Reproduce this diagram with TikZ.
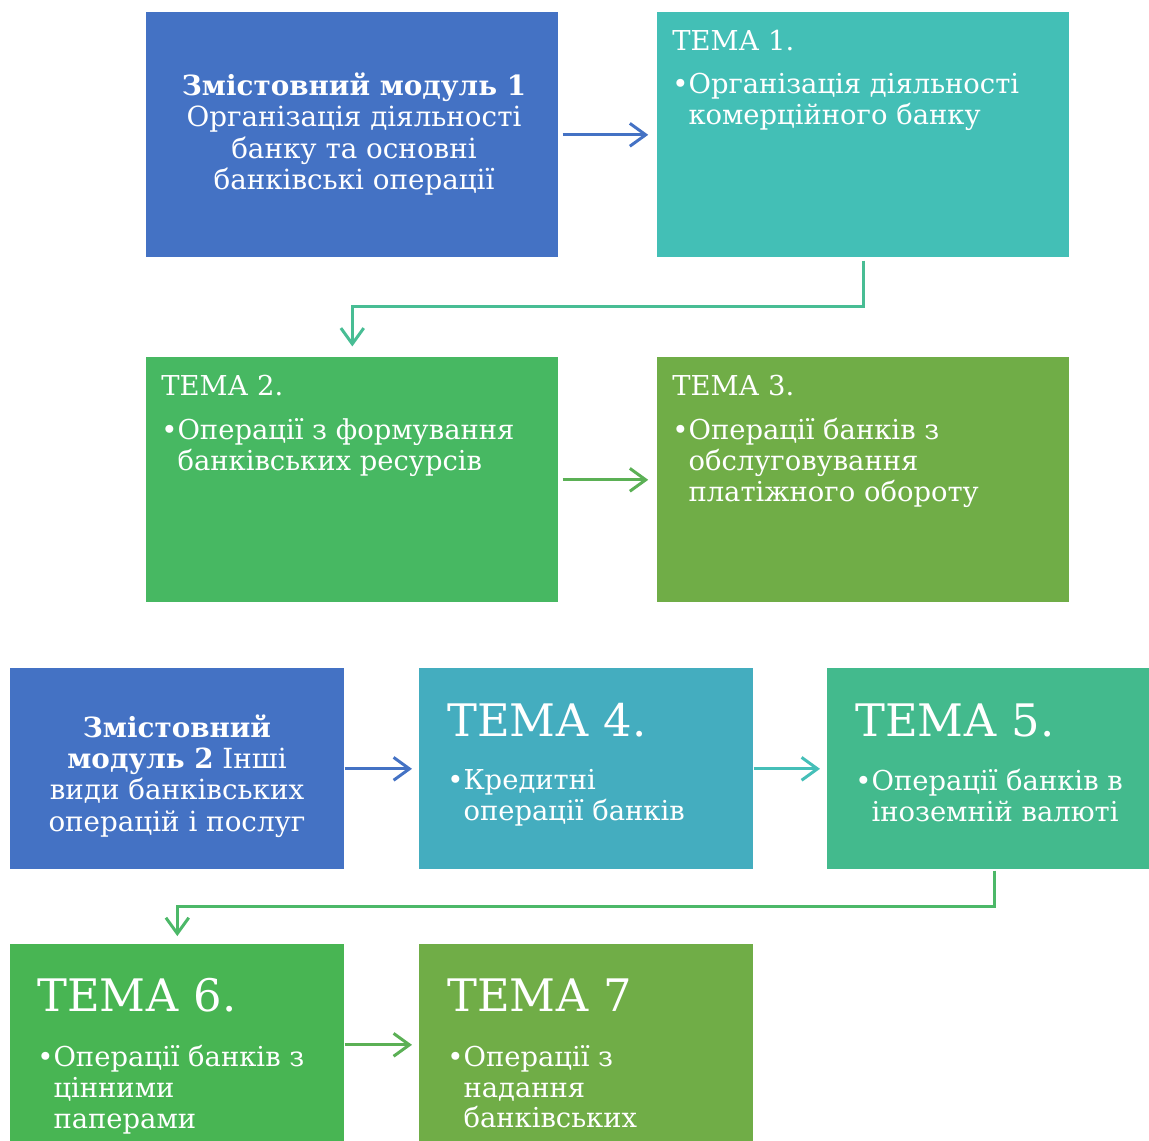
\documentclass[tikz,border=0pt]{standalone}
\usepackage{fontspec}
\setmainfont{DejaVu Serif}
\usetikzlibrary{arrows.meta}
\definecolor{modblue}{HTML}{4472C4}
\definecolor{tealone}{HTML}{43BFB6}
\definecolor{greentwo}{HTML}{47B862}
\definecolor{olive}{HTML}{70AD47}
\definecolor{tealfour}{HTML}{44ADBF}
\definecolor{greenfive}{HTML}{43BA8D}
\definecolor{greensix}{HTML}{48B553}
\definecolor{linkteal}{HTML}{48BD94}
\definecolor{linkgreen}{HTML}{5BB055}
\definecolor{linkcyan}{HTML}{45BFB8}
\definecolor{linkdown}{HTML}{4CB868}
\begin{document}
\begin{tikzpicture}[x=0.02cm, y=-0.02cm,
    every node/.style={inner sep=0pt, text=white},
    bigbox/.style={rectangle, anchor=north west, minimum width=8.24cm, minimum height=4.9cm},
    smallbox/.style={rectangle, anchor=north west, minimum width=6.68cm, minimum height=4.02cm},
    body/.style={anchor=north west, align=left, font=\fontsize{15.6}{17.5}\selectfont},
    modtext/.style={align=center, font=\fontsize{15.8}{17.8}\selectfont},
    bighead/.style={anchor=north west, font=\fontsize{25.5}{30}\selectfont},
    link/.style={line width=1.7pt, -{Straight Barb[length=9pt,width=13pt]}}]
  \useasboundingbox (0,0) rectangle (1149,1141);
  % first module
  \node[bigbox, fill=modblue] (m1) at (146,12) {};
  \node[bigbox, fill=tealone] (t1) at (657,12) {};
  \node[bigbox, fill=greentwo] (t2) at (146,357) {};
  \node[bigbox, fill=olive] (t3) at (657,357) {};
  \node[modtext] (m1text) at (354,134) {\textbf{Змістовний модуль 1}\\Організація діяльності\\банку та основні\\банківські операції};
  \node[body] (t1head) at (672,30) {ТЕМА 1.};
  \node[body] (t1text) at (672,73) {•Організація діяльності\\\phantom{•}комерційного банку};
  \node[body] (t2head) at (161,375) {ТЕМА 2.};
  \node[body] (t2text) at (161,418) {•Операції з формування\\\phantom{•}банківських ресурсів};
  \node[body] (t3head) at (672,375) {ТЕМА 3.};
  \node[body] (t3text) at (672,418) {•Операції банків з\\\phantom{•}обслуговування\\\phantom{•}платіжного обороту};
  \draw[link, modblue, shorten <=2.3pt, shorten >=5pt] (m1) -- (t1);
  \draw[link, linkteal, shorten <=1.7pt, shorten >=6pt] (t1.south) -- ++(0,49) -| (t2.north);
  \draw[link, linkgreen, shorten <=2.3pt, shorten >=5pt] (t2) -- (t3);
  % second module
  \node[smallbox, fill=modblue] (m2) at (10,668) {};
  \node[smallbox, fill=tealfour] (t4) at (419,668) {};
  \node[smallbox, fill=greenfive] (t5) at (827,668) {};
  \node[smallbox, fill=greensix] (t6) at (10,944) {};
  \node[smallbox, fill=olive] (t7) at (419,944) {};
  \node[modtext] (m2text) at (177,776) {\textbf{Змістовний}\\\textbf{модуль 2} Інші\\види банківських\\операцій і послуг};
  \node[bighead] (t4head) at (447,703) {ТЕМА 4.};
  \node[body] (t4text) at (447,769) {•Кредитні\\\phantom{•}операції банків};
  \node[bighead] (t5head) at (855,703) {ТЕМА 5.};
  \node[body] (t5text) at (855,769) {•Операції банків в\\\phantom{•}іноземній валюті};
  \node[bighead] (t6head) at (37,978) {ТЕМА 6.};
  \node[body] (t6text) at (37,1045) {•Операції банків з\\\phantom{•}цінними\\\phantom{•}паперами};
  \node[bighead] (t7head) at (447,978) {ТЕМА 7};
  \node[body] (t7text) at (447,1045) {•Операції з\\\phantom{•}надання\\\phantom{•}банківських};
  \draw[link, modblue, shorten >=4pt] (m2) -- (t4);
  \draw[link, linkcyan, shorten >=4pt] (t4) -- (t5);
  \draw[link, linkdown, shorten <=0.6pt, shorten >=4.5pt] (t5.south) -- ++(0,37) -| (t6.north);
  \draw[link, linkgreen, shorten >=4pt] (t6) -- (t7);
\end{tikzpicture}
\end{document}
